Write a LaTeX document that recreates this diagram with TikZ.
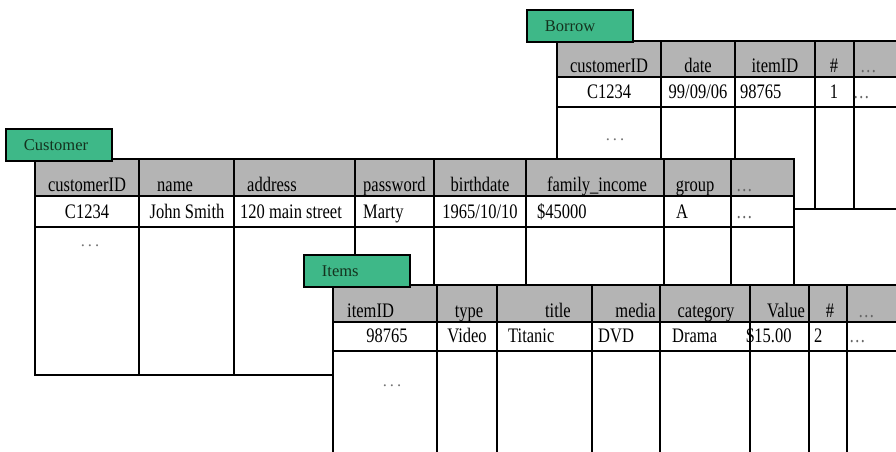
\documentclass[tikz,border=0pt]{standalone}
\usepackage{fontspec}
\setmainfont{Liberation Serif}
\usepackage{graphicx}
\definecolor{taggreen}{RGB}{62,184,136}
\definecolor{tagtext}{RGB}{20,50,30}
\definecolor{hdrgray}{RGB}{180,180,180}
\newcommand{\tabfont}{\fontsize{16.5}{19}\selectfont}
\newcommand{\tall}[1]{\scalebox{1}[1.25]{#1}}
\newcommand{\moredots}{\textcolor{black!55}{.\hspace{3pt}.\hspace{3pt}.}}
\newcommand{\celldots}{\textcolor{black!60}{\tall{\ldots}}}

\begin{document}
\begin{tikzpicture}[x=1pt,y=-1pt,
    grid/.style={draw=black, line width=1.9pt},
    hdr/.style={grid, fill=hdrgray},
    cell/.style={grid, fill=white},
    tag/.style={draw=black, line width=1.9pt, fill=taggreen, anchor=north west,
      minimum height=32pt, text width=70pt, inner xsep=18pt, inner ysep=0pt,
      align=left, font=\tabfont, text=tagtext},
    txt/.style={font=\tabfont, inner sep=0pt}]
  \useasboundingbox (0,0) rectangle (896,452);
  \clip (0,0) rectangle (896,452);

  % Borrow
  \foreach \a/\b in {557/661,661/735,735/815,815/854,854/920}{
    \draw[hdr] (\a,41) rectangle (\b,77);
    \draw[cell] (\a,77) rectangle (\b,107);
    \draw[cell] (\a,107) rectangle (\b,209);
  }
  \node[tag] (borrow) at (526,9) {Borrow};
  \node[txt,anchor=base] (bh1) at (609,72.5) {\tall{customerID}};
  \node[txt,anchor=base] (bh2) at (698,72.5) {\tall{date}};
  \node[txt,anchor=base] (bh3) at (775,72.5) {\tall{itemID}};
  \node[txt,anchor=base] (bh4) at (834,72.5) {\tall{\#}};
  \node[txt,anchor=base west] (bh5) at (860,72.5) {\celldots};
  \node[txt,anchor=base] (bd1) at (609,98) {\tall{C1234}};
  \node[txt,anchor=base] (bd2) at (698,98) {\tall{99/09/06}};
  \node[txt,anchor=base west] (bd3) at (740,98) {\tall{98765}};
  \node[txt,anchor=base] (bd4) at (834,98) {\tall{1}};
  \node[txt,anchor=base west] (bd5) at (853,98) {\celldots};
  \node[txt] (bmore) at (615,140) {\moredots};

  % Customer
  \foreach \a/\b in {35/139,139/234,234/355,355/434,434/526,526/664,664/731,731/794}{
    \draw[hdr] (\a,159) rectangle (\b,196);
    \draw[cell] (\a,196) rectangle (\b,227);
    \draw[cell] (\a,227) rectangle (\b,375);
  }
  \node[tag] (customer) at (5,128) {Customer};
  \node[txt,anchor=base] (ch1) at (87,191.5) {\tall{customerID}};
  \node[txt,anchor=base west] (ch2) at (157,191.5) {\tall{name}};
  \node[txt,anchor=base west] (ch3) at (247,191.5) {\tall{address}};
  \node[txt,anchor=base west] (ch4) at (363,191.5) {\tall{password}};
  \node[txt,anchor=base] (ch5) at (480,191.5) {\tall{birthdate}};
  \node[txt,anchor=base] (ch6) at (597,191.5) {\tall{family\_income}};
  \node[txt,anchor=base] (ch7) at (695,191.5) {\tall{group}};
  \node[txt,anchor=base west] (ch8) at (736,191.5) {\celldots};
  \node[txt,anchor=base] (cd1) at (87,218) {\tall{C1234}};
  \node[txt,anchor=base] (cd2) at (187,218) {\tall{John Smith}};
  \node[txt,anchor=base] (cd3) at (291,218) {\tall{120 main street}};
  \node[txt,anchor=base west] (cd4) at (363,218) {\tall{Marty}};
  \node[txt,anchor=base] (cd5) at (480,218) {\tall{1965/10/10}};
  \node[txt,anchor=base west] (cd6) at (537,218) {\tall{\$45000}};
  \node[txt,anchor=base] (cd7) at (682,218) {\tall{A}};
  \node[txt,anchor=base west] (cd8) at (736,218) {\celldots};
  \node[txt] (cmore) at (90,246) {\moredots};

  % Items
  \foreach \a/\b in {333/437,437/497,497/592,592/660,660/750,750/809,809/847,847/920}{
    \draw[hdr] (\a,285) rectangle (\b,322);
    \draw[cell] (\a,322) rectangle (\b,351);
    \draw[cell] (\a,351) rectangle (\b,470);
  }
  \node[tag] (items) at (303,254) {Items};
  \node[txt,anchor=base west] (ih1) at (347,317.5) {\tall{itemID}};
  \node[txt,anchor=base] (ih2) at (469,317.5) {\tall{type}};
  \node[txt,anchor=base east] (ih3) at (571,317.5) {\tall{title}};
  \node[txt,anchor=base east] (ih4) at (656,317.5) {\tall{media}};
  \node[txt,anchor=base] (ih5) at (706,317.5) {\tall{category}};
  \node[txt,anchor=base east] (ih6) at (805,317.5) {\tall{Value}};
  \node[txt,anchor=base] (ih7) at (830,317.5) {\tall{\#}};
  \node[txt,anchor=base west] (ih8) at (858,317.5) {\celldots};
  \node[txt,anchor=base] (id1) at (387,342) {\tall{98765}};
  \node[txt,anchor=base] (id2) at (467,342) {\tall{Video}};
  \node[txt,anchor=base west] (id3) at (508,342) {\tall{Titanic}};
  \node[txt,anchor=base west] (id4) at (598,342) {\tall{DVD}};
  \node[txt,anchor=base west] (id5) at (672,342) {\tall{Drama}};
  \node[txt,anchor=base west] (id6) at (746,342) {\tall{\$15.00}};
  \node[txt,anchor=base west] (id7) at (814,342) {\tall{2}};
  \node[txt,anchor=base west] (id8) at (849,342) {\celldots};
  \node[txt] (imore) at (392,386) {\moredots};
\end{tikzpicture}
\end{document}
